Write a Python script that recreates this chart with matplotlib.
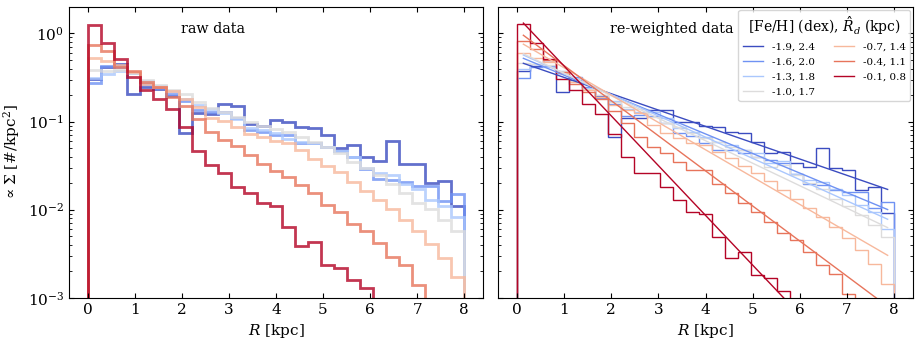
import matplotlib
matplotlib.use('Agg')
import matplotlib.pyplot as plt
import numpy as np

plt.rcParams['font.family'] = 'DejaVu Serif'
plt.rcParams['mathtext.fontset'] = 'dejavuserif'

# bins: 29 radial bins between 0 and 8 kpc
r_edges = np.linspace(0, 8, 30)
r_mid = 0.5 * (r_edges[1:] + r_edges[:-1])

feh = [-1.9, -1.6, -1.3, -1.0, -0.7, -0.4, -0.1]
rd_label = [2.4, 2.0, 1.8, 1.7, 1.4, 1.1, 0.8]

# raw surface density histograms (left panel), 0 = empty bin
raw = [
    [0.307, 0.413, 0.447, 0.205, 0.245, 0.232, 0.195, 0.0734, 0.126, 0.1217,
     0.157, 0.15, 0.0937, 0.089, 0.104, 0.0995, 0.0873, 0.085, 0.0703, 0.05,
     0.054, 0.0395, 0.0359, 0.06, 0.0329, 0.0329, 0.02, 0.0213, 0.011],
    [0.272, 0.431, 0.42, 0.36, 0.27, 0.24, 0.205, 0.17, 0.137, 0.128,
     0.13, 0.11, 0.08, 0.0766, 0.07, 0.07, 0.0565, 0.0565, 0.052, 0.0467,
     0.0398, 0.0289, 0.0226, 0.0216, 0.0204, 0.0187, 0.0187, 0.0126, 0.0149],
    [0.31, 0.343, 0.37, 0.36, 0.29, 0.255, 0.22, 0.18, 0.155, 0.14,
     0.125, 0.107, 0.0836, 0.08, 0.0734, 0.0638, 0.0585, 0.0575, 0.052, 0.046,
     0.04, 0.0299, 0.0262, 0.0251, 0.0198, 0.0171, 0.013, 0.011, 0.0083],
    [0.385, 0.375, 0.38, 0.359, 0.296, 0.258, 0.228, 0.205, 0.168, 0.141,
     0.129, 0.1115, 0.0977, 0.0889, 0.0822, 0.0754, 0.0673, 0.059, 0.0518, 0.0435,
     0.0349, 0.0294, 0.0247, 0.0198, 0.0155, 0.012, 0.0101, 0.0076, 0.00575],
    [0.531, 0.491, 0.438, 0.368, 0.267, 0.245, 0.224, 0.179, 0.147, 0.1087,
     0.1013, 0.0859, 0.0721, 0.066, 0.0605, 0.0565, 0.0475, 0.0375, 0.0315, 0.0269,
     0.0204, 0.0162, 0.0128, 0.0101, 0.0076, 0.00575, 0.00406, 0.00286, 0.00172],
    [0.746, 0.638, 0.42, 0.372, 0.281, 0.245, 0.19, 0.150, 0.106, 0.0767,
     0.0616, 0.0527, 0.0416, 0.0329, 0.0276, 0.0236, 0.0191, 0.0154, 0.01145, 0.00944,
     0.0069, 0.0057, 0.0042, 0.0029, 0.00234, 0.00139, 0, 0, 0],
    [1.23, 0.787, 0.518, 0.323, 0.228, 0.179, 0.139, 0.0873, 0.0462, 0.0318,
     0.0264, 0.0182, 0.0155, 0.012, 0.011, 0.0063, 0.00385, 0.00435, 0.00234, 0.0022,
     0.00158, 0.0013, 0, 0, 0, 0, 0, 0, 0],
]

# re-weighted histograms (right panel)
rew = [
    [0.375, 0.427, 0.5, 0.218, 0.296, 0.238, 0.195, 0.066, 0.111, 0.109,
     0.137, 0.135, 0.0995, 0.0995, 0.0897, 0.0859, 0.0767, 0.0734, 0.059, 0.0435,
     0.0454, 0.0335, 0.0307, 0.0504, 0.0299, 0.0286, 0.0169, 0.0179, 0.0093],
    [0.31, 0.42, 0.43, 0.36, 0.323, 0.245, 0.185, 0.16, 0.115, 0.118,
     0.115, 0.0954, 0.0746, 0.0685, 0.0565, 0.0475, 0.0475, 0.0435, 0.0398, 0.0365,
     0.0335, 0.0253, 0.0198, 0.019, 0.0169, 0.016, 0.016, 0.0106, 0.0123],
    [0.40, 0.45, 0.42, 0.37, 0.31, 0.24, 0.20, 0.17, 0.14, 0.128,
     0.129, 0.1087, 0.0836, 0.0767, 0.0673, 0.059, 0.054, 0.0475, 0.0435, 0.0335,
     0.0356, 0.0253, 0.0216, 0.0207, 0.0174, 0.0146, 0.0112, 0.00944, 0.0061],
    [0.458, 0.45, 0.44, 0.37, 0.29, 0.235, 0.20, 0.168, 0.148, 0.14,
     0.1135, 0.0954, 0.0873, 0.0734, 0.0644, 0.059, 0.0518, 0.0475, 0.0398, 0.0307,
     0.032, 0.0247, 0.0202, 0.0174, 0.0132, 0.011, 0.00866, 0.00667, 0.0049],
    [0.595, 0.522, 0.478, 0.36, 0.28, 0.228, 0.19, 0.154, 0.135, 0.126,
     0.0912, 0.0734, 0.0644, 0.0574, 0.054, 0.0454, 0.0382, 0.0315, 0.0258, 0.0213,
     0.0167, 0.0134, 0.0106, 0.0083, 0.00638, 0.00483, 0.00347, 0.0024, 0.00142],
    [0.83, 0.667, 0.5, 0.368, 0.267, 0.218, 0.179, 0.132, 0.0955, 0.0673,
     0.0518, 0.0442, 0.0349, 0.0286, 0.0281, 0.0198, 0.0153, 0.012, 0.00944, 0.00728,
     0.00545, 0.0045, 0.00332, 0.00234, 0.00188, 0.00112, 0, 0, 0],
    [1.27, 0.773, 0.513, 0.301, 0.228, 0.157, 0.121, 0.0714, 0.0398, 0.0264,
     0.0264, 0.0182, 0.0128, 0.00944, 0.0089, 0.0049, 0.00286, 0.00332, 0.0018, 0.0017,
     0.0012, 0, 0, 0, 0, 0, 0, 0, 0],
]

# exponential fits: value at first and last bin centre
fit_start = [0.458, 0.522, 0.569, 0.587, 0.755, 0.953, 1.31]
fit_end = [0.017, 0.01005, 0.0078, 0.00627, 0.00304, 0.0008, 5.7e-5]

colors = plt.cm.coolwarm(np.linspace(0, 1, len(feh)))

fig = plt.figure(figsize=(9.2, 3.44), dpi=100)
ax1 = fig.add_axes([0.075, 0.134, 0.450, 0.846])
ax2 = fig.add_axes([0.5413, 0.134, 0.4511, 0.846], sharey=ax1)

for i in range(len(feh)):
    ax1.stairs(raw[i], r_edges, baseline=0, color=colors[i], lw=2, alpha=0.8)
    ax2.stairs(rew[i], r_edges, baseline=0, color=colors[i], lw=1)
    ax2.plot([r_mid[0], r_mid[-1]], [fit_start[i], fit_end[i]], color=colors[i], lw=1,
             label='{:.1f}, {:.1f}'.format(feh[i], rd_label[i]))

for ax in (ax1, ax2):
    ax.set_yscale('log')
    ax.set_xlim(-0.4, 8.4)
    ax.set_ylim(1e-3, 2.0)
    ax.set_xticks(range(0, 9))
    ax.tick_params(which='both', direction='in', top=True, right=True, labelsize=11)
    ax.set_xlabel(r'$R$ [kpc]', fontsize=11)

ax1.set_ylabel(r'$\propto \Sigma$ [#/kpc$^2$]', fontsize=11)
plt.setp(ax2.get_yticklabels(), visible=False)

ax1.text(0.348, 0.924, 'raw data', transform=ax1.transAxes, ha='center', va='center', fontsize=10.3)
ax2.text(0.419, 0.924, 're-weighted data', transform=ax2.transAxes, ha='center', va='center', fontsize=10.3)

leg = ax2.legend(ncol=2, loc='upper right', fontsize=7.5, borderaxespad=0.3,
                 title=r'[Fe/H] (dex), $\hat{R}_d$ (kpc)', title_fontsize=10,
                 handlelength=2.0, columnspacing=1.8, labelspacing=0.55)

fig.savefig('out.png', dpi=100)
